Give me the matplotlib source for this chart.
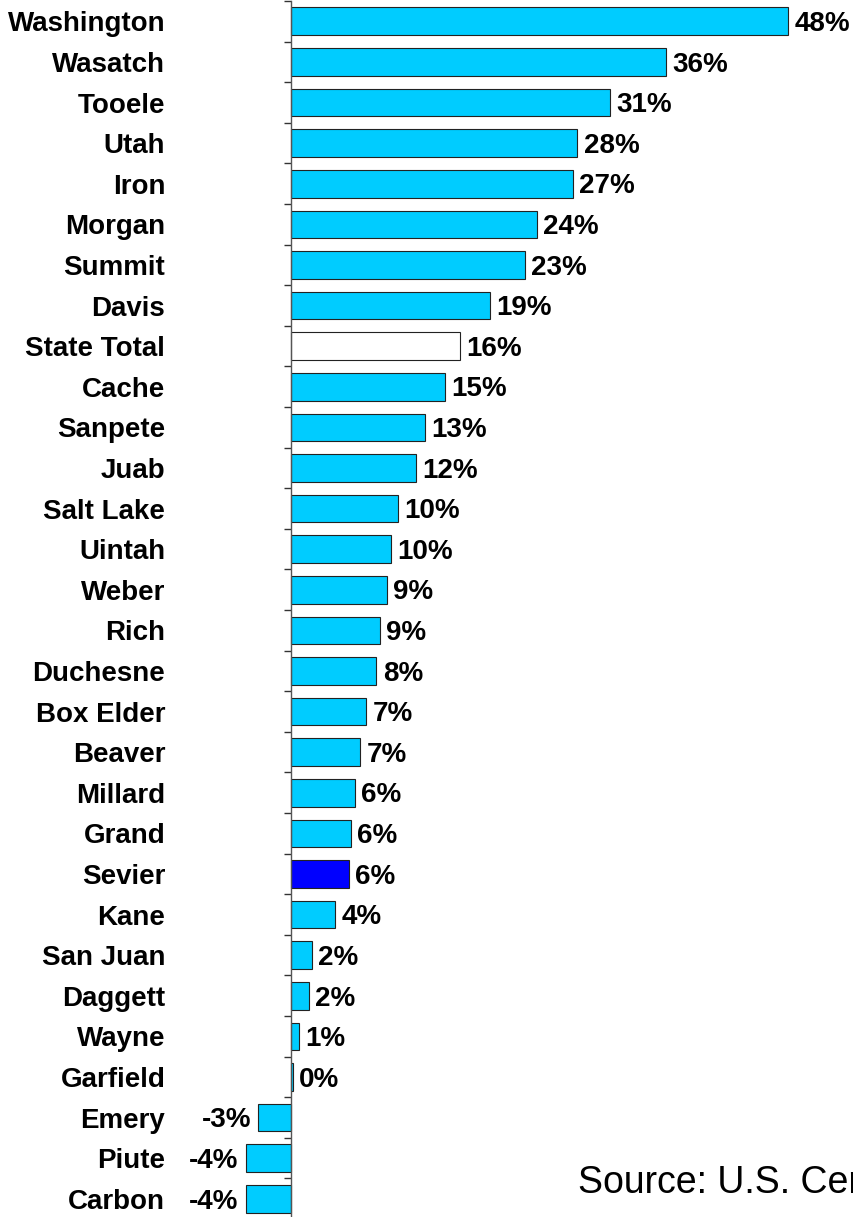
import matplotlib
matplotlib.use("Agg")
import matplotlib.pyplot as plt
from matplotlib.ticker import FixedLocator

plt.rcParams['font.family'] = ['Liberation Sans', 'DejaVu Sans']

counties = ["Washington", "Wasatch", "Tooele", "Utah", "Iron", "Morgan", "Summit",
            "Davis", "State Total", "Cache", "Sanpete", "Juab", "Salt Lake", "Uintah",
            "Weber", "Rich", "Duchesne", "Box Elder", "Beaver", "Millard", "Grand",
            "Sevier", "Kane", "San Juan", "Daggett", "Wayne", "Garfield", "Emery",
            "Piute", "Carbon"]
growth = [48.25, 36.4, 31.0, 27.8, 27.4, 23.9, 22.7, 19.3, 16.4, 15.0, 13.0, 12.1,
          10.4, 9.7, 9.3, 8.6, 8.3, 7.3, 6.7, 6.2, 5.8, 5.6, 4.3, 2.0, 1.7, 0.8, 0.2,
          -3.2, -4.4, -4.4]

base_color = "#00CCFF"
special = {"State Total": "#FFFFFF", "Sevier": "#0000FF"}
colors = [special.get(c, base_color) for c in counties]

W, H = 854, 1217
fig = plt.figure(figsize=(W / 100, H / 100), dpi=100)
ax = fig.add_axes([0, 0, 1, 1 - 1 / H])

ypos = list(range(len(counties)))
ax.barh(ypos, growth, height=0.68, color=colors, edgecolor="#222222", linewidth=0.8, zorder=2)

ax.set_xlim(-291 / 10.3, (W - 291) / 10.3)
ax.set_ylim(len(counties) - 0.55, -0.5)

for s in ["top", "right", "bottom"]:
    ax.spines[s].set_visible(False)
ax.spines["left"].set_position(("data", 0))
ax.spines["left"].set_color("#555555")
ax.spines["left"].set_linewidth(1.0)
ax.spines["left"].set_zorder(3)
ax.xaxis.set_visible(False)

ax.set_yticks(ypos)
ax.set_yticklabels(counties, fontsize=20, fontweight="bold")
ax.tick_params(axis="y", which="major", length=0, pad=90.5)
ax.yaxis.set_minor_locator(FixedLocator([i - 0.5 for i in range(len(counties) + 1)]))
ax.tick_params(axis="y", which="minor", length=5, width=1.0, color="#333333", direction="out")

for i, v in enumerate(growth):
    if v >= 0:
        ax.annotate(f"{v:.0f}%", (v, i), xytext=(4.5, -2), textcoords="offset points",
                    ha="left", va="center", fontsize=20, fontweight="bold")
    else:
        ax.annotate(f"{v:.0f}%", (v, i), xytext=(-5, -2), textcoords="offset points",
                    ha="right", va="center", fontsize=20, fontweight="bold")

fig.text(578 / W, 1 - 1193 / H, "Source: U.S. Census Bureau", fontsize=27,
         ha="left", va="baseline")

fig.savefig("out.png", dpi=100)
